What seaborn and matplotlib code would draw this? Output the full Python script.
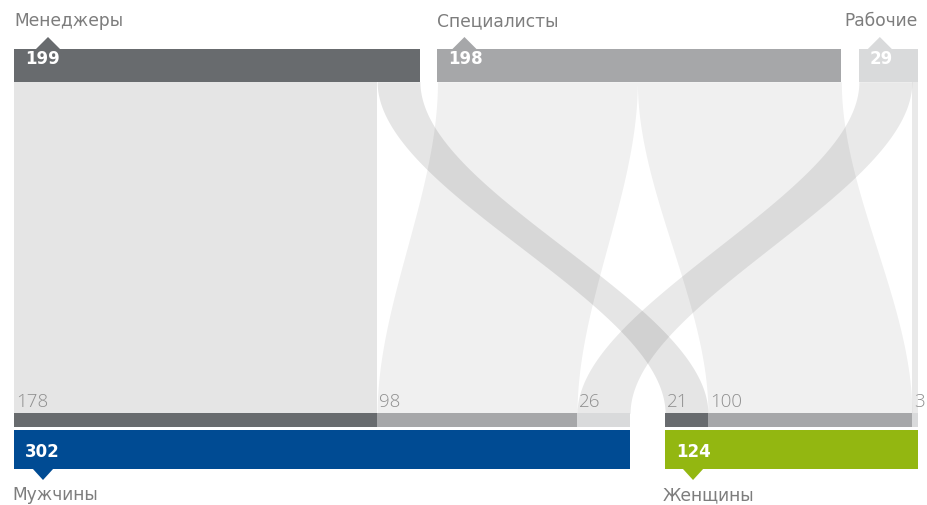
import numpy as np
import matplotlib
matplotlib.use("Agg")
import matplotlib.pyplot as plt
import seaborn as sns

# ---- data -------------------------------------------------------------
levels = ["Менеджеры", "Специалисты", "Рабочие"]
level_totals = [199, 198, 29]
genders = ["Мужчины", "Женщины"]
gender_totals = [302, 124]
men_by_level = [178, 98, 26]
women_by_level = [21, 100, 3]

# ---- style ------------------------------------------------------------
sns.set_theme(style="white")
plt.rcParams["font.family"] = ["DejaVu Sans"]

level_colors = ["#686b6e", "#a6a7a9", "#d9dadb"]
gender_colors = ["#004b93", "#93b711"]
flow_alpha = [0.10, 0.06, 0.085]
label_grey = "#7d7d7d"
value_grey = "#8f8f8f"

W, H = 928, 505
K = 2.04          # pixels per person
LEFT = 14         # left margin in pixels

fig = plt.figure(figsize=(W / 100, H / 100), dpi=100)
ax = fig.add_axes([0, 0, 1, 1])
ax.set_xlim(-LEFT / K, (W - LEFT) / K)
ax.set_ylim(H, 0)
ax.axis("off")

span = (W - 2 * LEFT + 4) / K
top_gap = (span - sum(level_totals)) / (len(level_totals) - 1)
bot_gap = (span - sum(gender_totals)) / (len(gender_totals) - 1)

# node positions (in people units)
top_start = np.concatenate([[0], np.cumsum(np.array(level_totals[:-1]) + top_gap)])
bot_start = np.concatenate([[0], np.cumsum(np.array(gender_totals[:-1]) + bot_gap)])

# vertical layout (pixels)
TOP_Y0, TOP_Y1 = 49, 81.7
FLOW_Y0, FLOW_Y1 = 81.7, 413.3
STRIP_Y0, STRIP_Y1 = 413.3, 427.3
BOT_Y0, BOT_Y1 = 430, 469

px = lambda p: p / K   # pixel length -> data units

caption_kw = dict(color=label_grey, fontsize=12.3, fontweight="normal", va="baseline",
                  family=["DejaVu Sans"])
number_kw = dict(color="white", fontsize=12, fontweight="bold", ha="left",
                 va="baseline", zorder=4, family=["DejaVu Sans"])
value_kw = dict(color=value_grey, fontsize=13.5, fontweight="light", ha="left",
                va="baseline", zorder=4, family=["Open Sans", "DejaVu Sans"])

# ---- flows ------------------------------------------------------------
ys = np.linspace(FLOW_Y0, FLOW_Y1, 300)
u = (ys - FLOW_Y0) / (FLOW_Y1 - FLOW_Y0)
ease = 3 * u ** 2 - 2 * u ** 3

gender_split = [men_by_level, women_by_level]
src_cursor = list(top_start)
tgt_cursor = list(bot_start)
segments = []  # (x0, x1, value, level index) for the strip under the flows
for g, split in enumerate(gender_split):
    for i, v in enumerate(split):
        s0, s1 = src_cursor[i], src_cursor[i] + v
        t0, t1 = tgt_cursor[g], tgt_cursor[g] + v
        src_cursor[i] = s1
        tgt_cursor[g] = t1
        left = s0 + (t0 - s0) * ease
        right = s1 + (t1 - s1) * ease
        ax.fill_betweenx(ys, left, right, color="black", alpha=flow_alpha[i],
                         linewidth=0, zorder=1)
        segments.append((t0, t1, v, i))

# ---- level bars (top) -------------------------------------------------
for i, (name, total) in enumerate(zip(levels, level_totals)):
    x0 = top_start[i]
    ax.barh(y=(TOP_Y0 + TOP_Y1) / 2, width=total, left=x0, height=TOP_Y1 - TOP_Y0,
            color=level_colors[i], linewidth=0, zorder=3)
    ax.text(x0 + px(11), 63.5, f"{total}", **number_kw)

# pointer triangles and captions above the level bars
top_tri = [34, 27, 21]
for i, name in enumerate(levels):
    cx = top_start[i] + px(top_tri[i])
    ax.fill([cx - px(12), cx + px(12), cx], [TOP_Y0, TOP_Y0, 37],
            color=level_colors[i], linewidth=0, zorder=3)
    if i == len(levels) - 1:
        ax.text(top_start[i] + level_totals[i], 26.5, name, ha="right", **caption_kw)
    else:
        ax.text(top_start[i], 26.5, name, ha="left", **caption_kw)

# ---- composition strip and flow values --------------------------------
for x0, x1, v, i in segments:
    ax.barh(y=(STRIP_Y0 + STRIP_Y1) / 2, width=x1 - x0, left=x0,
            height=STRIP_Y1 - STRIP_Y0, color=level_colors[i], linewidth=0, zorder=3)
    ax.text(x0 + px(2), 407, f"{v}", **value_kw)

# ---- gender bars (bottom) ---------------------------------------------
bot_tri = [29, 28]
for g, (name, total) in enumerate(zip(genders, gender_totals)):
    x0 = bot_start[g]
    ax.barh(y=(BOT_Y0 + BOT_Y1) / 2, width=total, left=x0, height=BOT_Y1 - BOT_Y0,
            color=gender_colors[g], linewidth=0, zorder=3)
    ax.text(x0 + px(11), 457, f"{total}", **number_kw)
    cx = x0 + px(bot_tri[g])
    ax.fill([cx - px(10.5), cx + px(10.5), cx], [BOT_Y1 - 0.5, BOT_Y1 - 0.5, 480],
            color=gender_colors[g], linewidth=0, zorder=3)
    ax.text(x0 - px(2), 500.5, name, ha="left", **caption_kw)

fig.savefig("out.png", dpi=100)
